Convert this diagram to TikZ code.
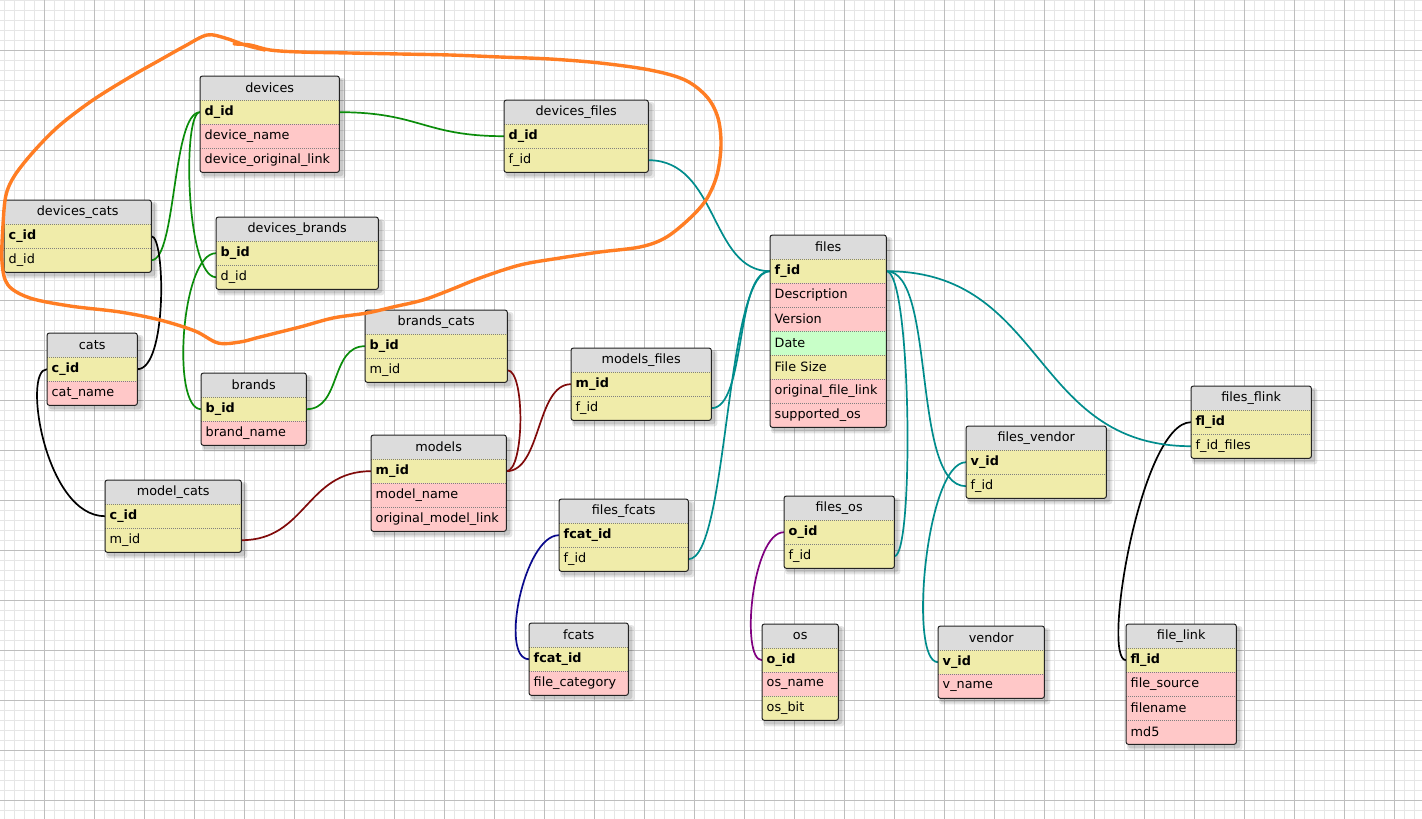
\documentclass[tikz,border=0pt]{standalone}
\usepackage{fontspec}
\setmainfont{DejaVu Sans}
\usetikzlibrary{calc}
\definecolor{kyY}{RGB}{240,236,170}
\definecolor{fpk}{RGB}{255,200,200}
\definecolor{fgr}{RGB}{200,255,200}
\definecolor{hdrg}{RGB}{220,220,220}
\definecolor{gridminor}{RGB}{230,230,230}
\definecolor{gridmajor}{RGB}{190,190,190}
\definecolor{cgreen}{RGB}{10,140,10}
\definecolor{cteal}{RGB}{0,140,140}
\definecolor{cmaroon}{RGB}{128,10,10}
\definecolor{cnavy}{RGB}{10,10,140}
\definecolor{cpurple}{RGB}{128,0,128}
\definecolor{corange}{RGB}{255,125,35}
\definecolor{frameg}{RGB}{35,35,35}
\pgfdeclarelayer{gridl}
\pgfdeclarelayer{shadowl}
\pgfdeclarelayer{conl}
\pgfsetlayers{gridl,shadowl,conl,main}
\newcommand\rowfont{\fontsize{12.8}{14}\selectfont}
\tikzset{
  hdr/.style={anchor=north west, fill=hdrg, minimum height=24pt, inner sep=0pt, font=\rowfont, text=black},
  dbrow/.style={anchor=north west, minimum height=24pt, inner xsep=4.5pt, inner ysep=0pt, align=left, font=\rowfont, text=black},
  sepline/.style={draw=black!50, line width=0.7pt, dash pattern=on 1pt off 1pt},
  frame/.style={draw=frameg, line width=1pt, rounded corners=2.5pt},
  minorline/.style={draw=gridminor, line width=1pt},
  majorline/.style={draw=gridmajor, line width=1pt},
  con/.style={line width=1.7pt},
}
\newcommand\dbtable[6]{%
  \pgfmathsetmacro\dbtw{#4-9}%
  \node[hdr, minimum width=#4pt] (#1-0) at (#2,#3) {#5};
  \foreach[count=\i] \c/\t in {#6}{%
    \node[dbrow, fill=\c, text width=\dbtw pt] (#1-\i) at (#2,{#3+24*\i}) {\t};
    \draw[sepline] (#1-\i.north west) -- (#1-\i.north east);
    \xdef\dblast{\i}%
  }
  \draw[frame] (#1-0.north west) rectangle (#1-\dblast.south east);
  \begin{pgfonlayer}{shadowl}
    \fill[black, opacity=.10, rounded corners=3pt] ([shift={(1,2)}]#1-0.north west) rectangle ([shift={(6,6)}]#1-\dblast.south east);
    \fill[black, opacity=.12, rounded corners=3pt] ([shift={(2,3)}]#1-0.north west) rectangle ([shift={(4,4)}]#1-\dblast.south east);
  \end{pgfonlayer}
}
\begin{document}
\begin{tikzpicture}[x=1pt,y=-1pt]
\useasboundingbox (0,0) rectangle (1422,819);
\begin{pgfonlayer}{gridl}
  \fill[white] (0,0) rectangle (1422,819);
  \foreach \x in {4.5,14.5,...,1422} \draw[minorline] (\x,0) -- (\x,819);
  \foreach \y in {0.5,10.5,...,819} \draw[minorline] (0,\y) -- (1422,\y);
  \foreach \x in {44.5,94.5,...,1422} \draw[majorline] (\x,0) -- (\x,819);
  \foreach \y in {50.5,100.5,...,819} \draw[majorline] (0,\y) -- (1422,\y);
\end{pgfonlayer}

\dbtable{dev}{200}{76}{139}{devices}{kyY/\textbf{d\_id},fpk/device\_name,fpk/device\_original\_link}
\dbtable{devfiles}{504}{100}{144}{devices\_files}{kyY/\textbf{d\_id},kyY/f\_id}
\dbtable{devcats}{4}{200}{147}{devices\_cats}{kyY/\textbf{c\_id},kyY/d\_id}
\dbtable{devbrands}{216}{217}{162}{devices\_brands}{kyY/\textbf{b\_id},kyY/d\_id}
\dbtable{cats}{47}{333}{90}{cats}{kyY/\textbf{c\_id},fpk/cat\_name}
\dbtable{brands}{201}{373}{105}{brands}{kyY/\textbf{b\_id},fpk/brand\_name}
\dbtable{brcats}{365}{310}{142}{brands\_cats}{kyY/\textbf{b\_id},kyY/m\_id}
\dbtable{models}{371}{435}{135}{models}{kyY/\textbf{m\_id},fpk/model\_name,fpk/original\_model\_link}
\dbtable{modfiles}{571}{348}{140}{models\_files}{kyY/\textbf{m\_id},kyY/f\_id}
\dbtable{modcats}{105}{480}{136}{model\_cats}{kyY/\textbf{c\_id},kyY/m\_id}
\dbtable{filesfcats}{559}{499}{129}{files\_fcats}{kyY/\textbf{fcat\_id},kyY/f\_id}
\dbtable{fcats}{529}{623}{99}{fcats}{kyY/\textbf{fcat\_id},fpk/file\_category}
\dbtable{files}{770}{235}{116}{files}{kyY/\textbf{f\_id},fpk/Description,fpk/Version,fgr/Date,kyY/File Size,fpk/original\_file\_link,fpk/supported\_os}
\dbtable{filesos}{784}{496}{110}{files\_os}{kyY/\textbf{o\_id},kyY/f\_id}
\dbtable{os}{762}{624}{76}{os}{kyY/\textbf{o\_id},fpk/os\_name,kyY/os\_bit}
\dbtable{filesvendor}{966}{426}{140}{files\_vendor}{kyY/\textbf{v\_id},kyY/f\_id}
\dbtable{vendor}{938}{626}{106}{vendor}{kyY/\textbf{v\_id},fpk/v\_name}
\dbtable{filesflink}{1191}{386}{120}{files\_flink}{kyY/\textbf{fl\_id},kyY/f\_id\_files}
\dbtable{filelink}{1126}{624}{110}{file\_link}{kyY/\textbf{fl\_id},fpk/file\_source,fpk/filename,fpk/md5}

\begin{pgfonlayer}{conl}
  % green
  \draw[con, cgreen] (dev-1.west) .. controls +(-28,0) and +(25,0) .. (devcats-2.east);
  \draw[con, cgreen] (dev-1.west) .. controls +(-18,0) and +(-30,0) .. (devbrands-2.west);
  \draw[con, cgreen] (dev-1.east) .. controls +(80,0) and +(-80,0) .. (devfiles-1.west);
  \draw[con, cgreen] (devbrands-1.west) .. controls +(-35,0) and +(-30,0) .. (brands-1.west);
  \draw[con, cgreen] (brands-1.east) .. controls +(35,0) and +(-35,0) .. (brcats-1.west);
  % black
  \draw[con, black] (devcats-1.east) .. controls +(14,0) and +(30,0) .. (cats-1.east);
  \draw[con, black] (cats-1.west) .. controls +(-25,0) and +(-60,0) .. (modcats-1.west);
  \draw[con, black] (filesflink-1.west) .. controls +(-50,0) and +(-25,0) .. (filelink-1.west);
  % maroon
  \draw[con, cmaroon] (brcats-2.east) .. controls +(18,0) and +(18,0) .. (models-1.east);
  \draw[con, cmaroon] (models-1.east) .. controls +(35,0) and +(-35,0) .. (modfiles-1.west);
  \draw[con, cmaroon] (modcats-2.east) .. controls +(65,0) and +(-65,0) .. (models-1.west);
  % teal
  \draw[con, cteal] (devfiles-2.east) .. controls +(70,0) and +(-60,0) .. (files-1.west);
  \draw[con, cteal] (modfiles-2.east) .. controls +(35,0) and +(-35,0) .. (files-1.west);
  \draw[con, cteal] (filesfcats-2.east) .. controls +(40,0) and +(-45,0) .. (files-1.west);
  \draw[con, cteal] (files-1.east) .. controls +(25,0) and +(20,0) .. (filesos-2.east);
  \draw[con, cteal] (files-1.east) .. controls +(50,0) and +(-55,0) .. (filesvendor-2.west);
  \draw[con, cteal] (files-1.east) .. controls +(160,0) and +(-160,0) .. (filesflink-2.west);
  \draw[con, cteal] (filesvendor-1.west) .. controls +(-40,0) and +(-30,0) .. (vendor-1.west);
  % navy, purple
  \draw[con, cnavy] (filesfcats-1.west) .. controls +(-35,0) and +(-30,0) .. (fcats-1.west);
  \draw[con, cpurple] (filesos-1.west) .. controls +(-32,0) and +(-22,0) .. (os-1.west);
\end{pgfonlayer}

% freehand orange loop
\draw[corange, line width=3.4pt, line cap=round, line join=round]
  plot[smooth, tension=0.55] coordinates {
  (234,44) (250,45) (270,50) (300,52) (350,53) (400,54) (450,55) (500,57) (550,59)
  (600,63) (650,70) (685,80) (707,97) (718,118) (721,145) (717,175) (706,200)
  (688,220) (665,238) (640,247) (600,252) (560,258) (520,265) (480,278) (450,290)
  (423,300) (393,307) (367,313) (333,318) (300,327) (260,337) (240,342) (218,343)
  (195,331) (160,320) (120,312) (70,306) (30,298) (8,285) (2,262) (3,225) (6,195)
  (15,175) (35,150) (60,125) (93,100) (130,77) (160,60) (185,46) (207,35) (225,38)
  (245,45) (265,50)};
\end{tikzpicture}
\end{document}
